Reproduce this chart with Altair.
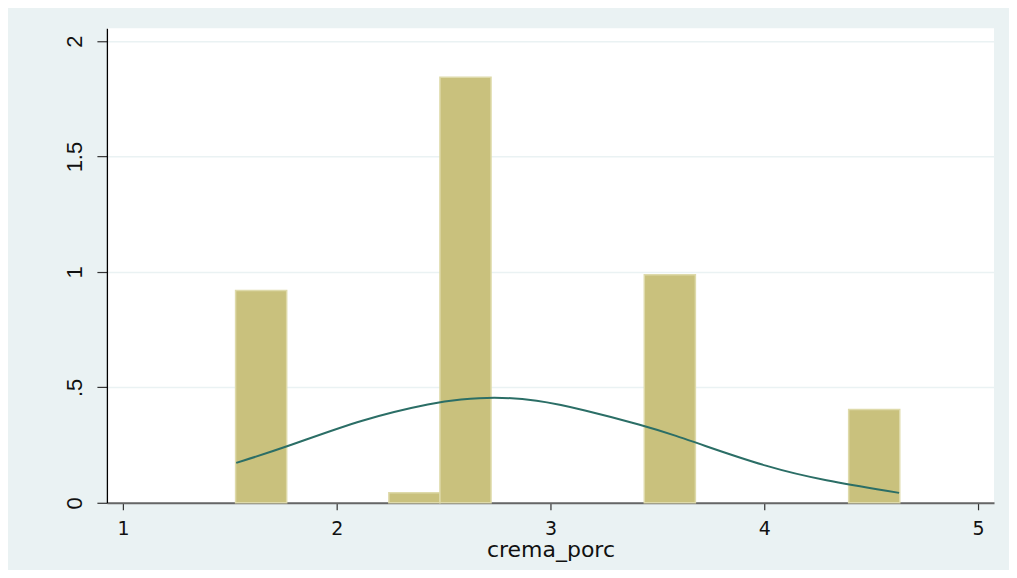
import altair as alt
import pandas as pd

# Histogram bins (density)
bin_left = [1.527, 2.244, 2.483, 3.439, 4.395]
bin_right = [1.766, 2.483, 2.722, 3.678, 4.634]
density = [0.920, 0.043, 1.844, 0.988, 0.404]

# Normal density overlay
curve_x = [1.530, 1.764, 2.122, 2.465, 2.574, 2.730, 2.933, 3.151, 3.431, 3.603, 3.681, 4.023, 4.273, 4.631]
curve_y = [0.173, 0.241, 0.364, 0.436, 0.447, 0.459, 0.447, 0.404, 0.336, 0.286, 0.260, 0.152, 0.098, 0.043]

x_ticks = [1, 2, 3, 4, 5]
y_ticks = [0, 0.5, 1, 1.5, 2]
y_tick_labels = ["0", ".5", "1", "1.5", "2"]

bars_df = pd.DataFrame({"left": bin_left, "right": bin_right, "density": density})
curve_df = pd.DataFrame({"x": curve_x, "y": curve_y})

x_scale = alt.Scale(domain=[0.925, 5.075], nice=False, zero=False)
y_scale = alt.Scale(domain=[0, 2.056], nice=False)

label_expr = "datum.value == 0 ? '0' : datum.value == 0.5 ? '.5' : datum.value == 1 ? '1' : datum.value == 1.5 ? '1.5' : '2'"

x_axis = alt.Axis(
    values=x_ticks, format="d", title="crema_porc", grid=False,
    tickSize=7, tickColor="#333333", tickWidth=1.2,
    domainColor="#666666", domainWidth=2,
    labelFont="DejaVu Sans", labelFontSize=19, labelColor="#111111", labelPadding=10,
    titleFont="DejaVu Sans", titleFontSize=22, titleFontWeight="normal", titleColor="#111111",
    titleY=54, titleBaseline="alphabetic",
)
y_axis = alt.Axis(
    values=y_ticks, labelExpr=label_expr, title=None, grid=True,
    gridColor="#EAF2F3", gridWidth=1.5,
    tickSize=10, tickColor="#333333", tickWidth=1.2,
    domainColor="#000000", domainWidth=1.3,
    labelFont="Liberation Sans", labelFontSize=22, labelColor="#111111",
    labelAngle=270, labelAlign="center", labelBaseline="bottom", labelPadding=10,
)

bars = alt.Chart(bars_df).mark_rect(
    color="#C9C17D", stroke="#DEDAAA", strokeWidth=1.5
).encode(
    x=alt.X("left:Q", scale=x_scale, axis=x_axis),
    x2="right:Q",
    y=alt.Y("density:Q", scale=y_scale, axis=y_axis),
    y2=alt.datum(0),
)

line = alt.Chart(curve_df).mark_line(
    color="#2B6E66", strokeWidth=2, interpolate="basis"
).encode(
    x=alt.X("x:Q", scale=x_scale),
    y=alt.Y("y:Q", scale=y_scale),
)

chart = alt.layer(bars, line).properties(
    width=888,
    height=475,
    background="#EAF2F3",
    padding={"left": 99, "top": 20, "right": 15, "bottom": 67},
    autosize=alt.AutoSizeParams(type="none"),
).configure_view(fill="white", stroke=None)

chart.save("out.html", embed_options={"renderer": "svg", "actions": False})
